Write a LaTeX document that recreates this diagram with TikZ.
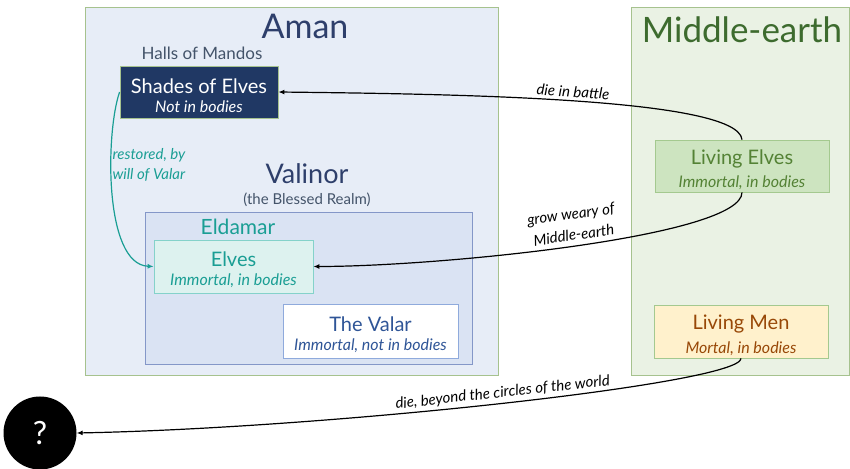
\documentclass[tikz,border=0pt]{standalone}
\usepackage{fontspec}
\setmainfont{Lato}
\usetikzlibrary{arrows.meta}

\definecolor{amanbg}{HTML}{E7EDF7}
\definecolor{middlebg}{HTML}{EAF2E4}
\definecolor{realmline}{HTML}{A6C28E}
\definecolor{navy}{HTML}{2E3F6B}
\definecolor{slate}{HTML}{44546A}
\definecolor{mandos}{HTML}{203864}
\definecolor{eldabg}{HTML}{DAE3F3}
\definecolor{eldaline}{HTML}{8497C8}
\definecolor{teal}{HTML}{1A9E94}
\definecolor{elvesbg}{HTML}{DDF2EF}
\definecolor{elvesline}{HTML}{84D2CA}
\definecolor{valarline}{HTML}{8FAADC}
\definecolor{valartext}{HTML}{2F5597}
\definecolor{earthgreen}{HTML}{3D6B2E}
\definecolor{livingbg}{HTML}{CDE4C0}
\definecolor{livingline}{HTML}{A4C98F}
\definecolor{livingtext}{HTML}{548235}
\definecolor{menbg}{HTML}{FFF1CC}
\definecolor{mentext}{HTML}{984807}

\newcommand{\beingtext}[2]{\rule{0pt}{22pt}{\fontsize{20}{22}\selectfont #1}\\[7pt]{\itshape\fontsize{16}{18}\selectfont #2}}

\tikzset{
  realm/.style={draw=realmline, line width=0.8pt, inner sep=0pt, anchor=south west},
  being/.style={draw, line width=0.8pt, align=center, inner sep=0pt},
  fate/.style={-{Latex[length=6pt,width=5pt]}, line width=1.2pt},
  fatelabel/.style={font=\itshape\fontsize{15}{18}\selectfont, sloped, above, align=center, inner sep=3pt}
}

\begin{document}
\begin{tikzpicture}[x=1pt,y=1pt]
\useasboundingbox (0,0) rectangle (850,468);

\node[realm, fill=amanbg, minimum width=413, minimum height=368] (aman) at (85,92) {};
\node[realm, fill=middlebg, minimum width=218, minimum height=368] (middle) at (631,92) {};
\node[text=navy, font=\fontsize{34}{38}\selectfont] (amantitle) at (305,442) {Aman};
\node[text=earthgreen, font=\fontsize{35}{38}\selectfont] (middletitle) at (742,438) {Middle-earth};

\node[text=slate, font=\fontsize{17}{20}\selectfont] (halls) at (202,415) {Halls of Mandos};
\node[being, draw=realmline, fill=mandos, text=white, minimum width=158, minimum height=52] (shades) at (199,376) {\beingtext{Shades of Elves}{Not in bodies}};

\node[text=navy, font=\fontsize{27}{30}\selectfont] (valinor) at (307,294) {Valinor};
\node[text=slate, font=\fontsize{15}{18}\selectfont] (blessed) at (307,268) {(the Blessed Realm)};

\node[realm, draw=eldaline, fill=eldabg, minimum width=327, minimum height=152] (eldamar) at (145,103) {};
\node[text=teal, font=\fontsize{21}{24}\selectfont] (eldamartitle) at (238,241) {Eldamar};
\node[being, draw=elvesline, fill=elvesbg, text=teal, minimum width=159, minimum height=53] (elves) at (233.5,201.5) {\beingtext{Elves}{Immortal, in bodies}};
\node[being, draw=valarline, fill=white, text=valartext, minimum width=175, minimum height=54] (valar) at (370.5,137) {\beingtext{The Valar}{Immortal, not in bodies}};

\node[being, draw=livingline, fill=livingbg, text=livingtext, minimum width=174, minimum height=52] (livingelves) at (742,302) {\beingtext{Living Elves}{Immortal, in bodies}};
\node[being, draw=livingline, fill=menbg, text=mentext, minimum width=174, minimum height=53] (livingmen) at (741,136.5) {\beingtext{Living Men}{Mortal, in bodies}};

\node[circle, fill=black, text=white, minimum size=73, inner sep=0pt, font=\fontsize{32}{36}\selectfont] (beyond) at (40,35) {?};

\draw[fate] (livingelves.north) .. controls +(-4,42) and +(170,-2) .. node[fatelabel, pos=0.5] {die in battle} (shades.east);
\draw[fate] (livingelves.south) .. controls +(0,-44) and +(127,0) .. node[fatelabel, pos=0.5, inner sep=5pt] {grow weary of\\[3pt]Middle-earth} (elves.east);
\draw[fate] (livingmen.south) .. controls +(0,-25) and +(253,5) .. node[fatelabel, pos=0.5] {die, beyond the circles of the world} (beyond.east);
\draw[fate, draw=teal] (shades.west) .. controls +(-14,-40) and +(-50,2) .. (elves.west);
\node[text=teal, font=\itshape\fontsize{15}{20}\selectfont, align=left, anchor=west] (restored) at (109,303) {restored, by\\will of Valar};
\end{tikzpicture}
\end{document}
